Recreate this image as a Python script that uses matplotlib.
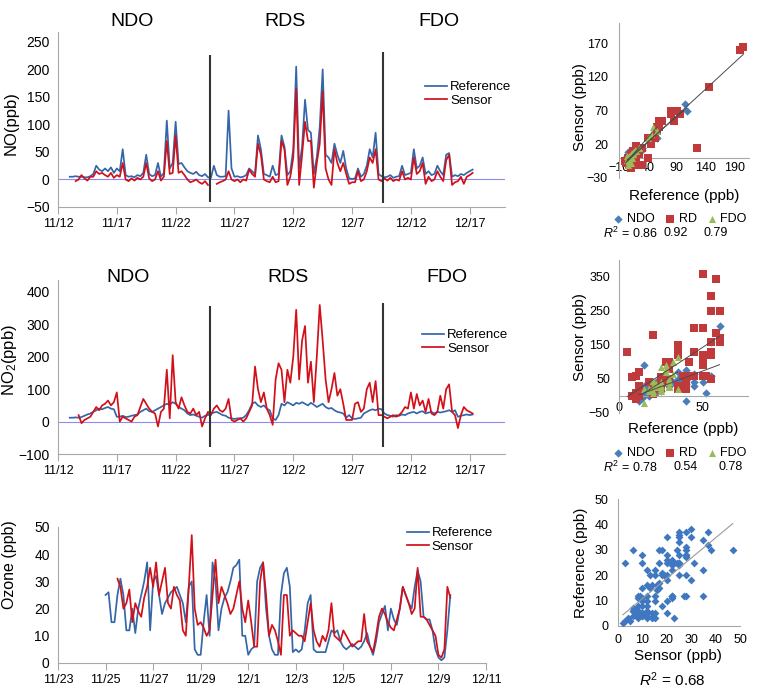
import numpy as np
import pandas as pd
import matplotlib
matplotlib.use('Agg')
import matplotlib.pyplot as plt

plt.rcParams['font.family'] = ['Liberation Sans', 'DejaVu Sans']
plt.rcParams['mathtext.fontset'] = 'custom'
plt.rcParams['mathtext.rm'] = 'Liberation Sans'
plt.rcParams['mathtext.it'] = 'Liberation Sans:italic'

# ---------------- data (days since 11/12) ----------------
STEP = 0.25          # NO / NO2 sampling (days)
O3_STEP = 0.125      # ozone sampling (days)
period_names = ['NDO', 'RDS', 'FDO']
period_bounds = [12.9, 27.6]
scatter_groups = ['NDO', 'RD', 'FDO']

no_start = 1.0
no_ref = [5, 5, 6, 5, 5, 4, 4, 6, 10, 25, 18, 15, 20, 15, 22, 12,
          20, 15, 55, 8, 5, 6, 4, 8, 6, 12, 45, 10, 6, 8, 30, 5,
          12, 107, 20, 30, 105, 28, 30, 22, 15, 12, 10, 14, 8, 6, 10, 4,
          3, 25, 8, 5, 5, 6, 125, 20, 5, 6, 4, 5, 8, 20, 15, 10,
          80, 55, 10, 8, 5, 25, 8, 10, 80, 60, 8, 15, 55, 205, 20, 60,
          145, 90, 85, 10, 40, 95, 200, 45, 40, 30, 65, 45, 30, 52, 20, 2,
          1, 2, 20, 5, 10, 25, 55, 40, 85, 10, 6, 4, 5, 8, 3, 5,
          6, 25, 8, 10, 12, 55, 20, 25, 40, 10, 15, 8, 10, 25, 15, 8,
          45, 48, 5, 8, 6, 10, 8, 12, 15, 18]
no_sensor = [np.nan, np.nan, -3, 0, 8, 2, -2, 5, 5, 15, 10, 12, 8, 5, 12, 3,
             8, 5, 30, 0, -3, 2, -2, 3, 0, 5, 30, 2, -3, 0, 15, -2,
             5, 70, 10, 12, 80, 12, 15, 8, 0, -5, -3, 0, -5, -8, -3, -10,
             np.nan, np.nan, -8, -5, -3, 0, 15, 0, -3, 0, -5, 0, -2, 18, 10, 5,
             65, 45, 0, -3, -5, 5, -5, -3, 70, 55, -10, 5, 40, 165, -10, 45,
             105, 70, 70, -15, 30, 65, 160, 20, 0, -10, 55, 30, 15, 30, 10, -8,
             -5, -5, 15, -3, 0, 15, 40, 30, 55, 0, -3, 2, -2, 3, -3, 0,
             -2, 15, 0, 3, 0, 40, 10, 15, 30, -8, 5, -3, 0, 15, 5, -3,
             35, 45, -10, -5, -3, 5, -8, 5, 8, 12]

no2_start = 1.0
no2_ref = [12, 12, 13, 12, 14, 18, 22, 25, 30, 35, 40, 38, 42, 45, 40, 38,
           15, 15, 18, 14, 15, 18, 20, 22, 30, 35, 40, 32, 30, 35, 40, 45,
           50, 55, 52, 60, 55, 45, 40, 35, 25, 20, 22, 18, 15, 12, 18, 20,
           25, 28, 30, 25, 20, 18, 12, 10, 8, 10, 10, 12, 20, 35, 55, 60,
           50, 45, 50, 40, 35, 10, 5, 20, 55, 50, 60, 55, 50, 58, 55, 60,
           55, 50, 58, 52, 45, 50, 55, 45, 40, 42, 35, 30, 28, 25, 12, 20,
           10, 8, 10, 12, 25, 30, 35, 38, 35, 40, 38, 25, 20, 18, 15, 20,
           18, 22, 20, 25, 28, 30, 25, 30, 32, 25, 28, 30, 25, 30, 28, 30,
           32, 35, 30, 35, 15, 18, 20, 22, 20, 22]
no2_sensor = [np.nan, np.nan, np.nan, 20, -5, 5, 10, 15, 30, 45, 35, 50, 55, 65, 50, 60,
              90, 0, 15, 10, 5, 0, 15, 20, 45, 70, 55, 40, 30, 25, -15, 30,
              40, 160, 10, 205, 60, 40, 75, 50, 30, 25, 40, 20, 30, -15, 10, 30,
              20, 40, 50, 35, 30, 40, 70, 5, 0, 5, 10, 0, 10, 30, 50, 170,
              100, 60, 90, 40, 20, -10, 130, 180, 160, 60, 160, 120, 200, 345, 130, 250,
              295, 120, 185, 60, 200, 360, 250, 130, 60, 100, 150, 80, 100, 55, 5, 5,
              5, 55, 60, 30, 40, 100, 120, 60, 125, 20, 20, 15, 10, 15, 20, 15,
              20, 30, 45, 40, 90, 40, 85, 50, 65, 30, 70, 25, 20, 30, 80, 40,
              100, 115, 30, 20, -20, 20, 45, 35, 30, 25]

o3_ref_start = 13.0
o3_ref = [25, 26, 15, 15, 25, 31, 25, 12,
          12, 20, 11, 20, 25, 30, 37, 12,
          30, 32, 25, 18, 22, 24, 26, 27,
          28, 25, 22, 15, 28, 30, 5, 3,
          3, 15, 25, 10, 37, 30, 12, 20,
          24, 26, 30, 35, 36, 38, 10, 10,
          3, 5, 6, 30, 35, 37, 20, 10,
          5, 3, 3, 25, 33, 35, 28, 4,
          5, 4, 5, 12, 22, 25, 5, 4,
          4, 4, 4, 8, 12, 11, 12, 8,
          6, 5, 6, 7, 6, 5, 6, 8,
          11, 6, 3, 8, 15, 18, 21, 12,
          20, 16, 14, 20, 28, 25, 22, 20,
          28, 34, 30, 17, 16, 16, 12, 5,
          2, 1, 2, 12, 25]
o3_sensor_start = 13.5
o3_sensor = [31, 28, 20, 22, 27, 15, 22, 19,
             17, 24, 28, 35, 28, 37, 25, 30,
             35, 22, 20, 28, 25, 23, 12, 10,
             28, 47, 20, 14, 15, 13, 10, 12,
             25, 38, 22, 28, 25, 22, 18, 20,
             25, 30, 20, 15, 23, 15, 6, 6,
             30, 37, 25, 10, 14, 12, 8, 3,
             25, 25, 10, 12, 11, 10, 10, 8,
             15, 22, 12, 8, 6, 10, 8, 12,
             22, 10, 9, 8, 12, 10, 8, 6,
             7, 8, 8, 18, 8, 6, 4, 10,
             17, 20, 18, 15, 13, 12, 16, 20,
             28, 25, 22, 18, 20, 35, 17, 17,
             16, 14, 12, 10, 3, 2, 5, 28, 24]

tick_days_top = [0, 5, 10, 15, 20, 25, 30, 35]
tick_labels_top = ['11/12', '11/17', '11/22', '11/27', '12/2', '12/7', '12/12', '12/17']
tick_days_o3 = [11, 13, 15, 17, 19, 21, 23, 25, 27, 29]
tick_labels_o3 = ['11/23', '11/25', '11/27', '11/29', '12/1', '12/3', '12/5', '12/7', '12/9', '12/11']

no_r2 = ['0.86', '0.92', '0.79']
no2_r2 = ['0.78', '0.54', '0.78']
o3_r2 = '0.68'

# ---------------- helpers ----------------
REF_C = '#3566a8'
SEN_C = '#d2101a'
GRP_C = ['#4a7ebb', '#c0393b', '#9bbb59']
GRP_M = ['D', 's', '^']
GRP_S = [18, 26, 26]
SPINE_C = '#a8a8a8'


def series(start, vals, step=STEP):
    t = np.round(start + step * np.arange(len(vals)), 4)
    return pd.Series(np.array(vals, dtype=float), index=t)


def paired(sa, a, sb, b, step=STEP):
    df = pd.concat([series(sa, a, step), series(sb, b, step)], axis=1, keys=['ref', 'sen'])
    return df.dropna()


W, H = 780, 696


def rect(l, t, r, b):
    return [l / W, 1 - b / H, (r - l) / W, (b - t) / H]


fig = plt.figure(figsize=(7.8, 6.96), dpi=100)


def style_ts(ax):
    for s in ['top', 'right']:
        ax.spines[s].set_visible(False)
    for s in ['left', 'bottom']:
        ax.spines[s].set_color(SPINE_C)
        ax.spines[s].set_linewidth(0.8)
    ax.tick_params(axis='y', length=0, labelsize=10, pad=6)
    ax.tick_params(axis='x', length=5, color=SPINE_C, labelsize=9, pad=3)


def style_sc(ax, ypad, xpad):
    for s in ['top', 'right']:
        ax.spines[s].set_visible(False)
    for s in ['left', 'bottom']:
        ax.spines[s].set_color(SPINE_C)
        ax.spines[s].set_linewidth(0.8)
    ax.tick_params(axis='y', length=0, labelsize=9, pad=ypad)
    ax.tick_params(axis='x', length=0, labelsize=9, pad=xpad)


def ts_legend(ax, x, y):
    ax.legend(loc='center left', bbox_to_anchor=(x, y), frameon=False, fontsize=9.5,
              handlelength=1.7, handletextpad=0.2, labelspacing=0.1,
              borderpad=0, borderaxespad=0)


LW = 1.25

# ---------------- NO time series ----------------
ax1 = fig.add_axes(rect(58, 32, 505, 207))
s = series(no_start, no_ref)
ax1.plot(s.index, s.values, color=REF_C, lw=LW, label='Reference')
s = series(no_start, no_sensor)
ax1.plot(s.index, s.values, color=SEN_C, lw=LW, label='Sensor')
ax1.axhline(0, color='#8c8cf0', lw=0.8, zorder=1)
ax1.vlines(period_bounds[0], -41, 226, color='#333333', lw=1.5)
ax1.vlines(period_bounds[1], -43, 232, color='#333333', lw=1.5)
ax1.set_xlim(0, 38)
ax1.set_ylim(-50, 268)
ax1.set_yticks([-50, 0, 50, 100, 150, 200, 250])
ax1.set_xticks(tick_days_top)
ax1.set_xticklabels(tick_labels_top)
style_ts(ax1)
ax1.set_ylabel('NO(ppb)', fontsize=12)
ax1.yaxis.set_label_coords(-0.088, 0.48)
ts_legend(ax1, 0.821, 0.646)
for name, xp in zip(period_names, [132, 285, 439]):
    fig.text(xp / W, 1 - 22 / H, name, ha='center', va='center', fontsize=14)

# ---------------- NO2 time series ----------------
ax2 = fig.add_axes(rect(58, 280, 505, 454))
s = series(no2_start, no2_ref)
ax2.plot(s.index, s.values, color=REF_C, lw=LW, label='Reference')
s = series(no2_start, no2_sensor)
ax2.plot(s.index, s.values, color=SEN_C, lw=LW, label='Sensor')
ax2.axhline(0, color='#8c8cf0', lw=0.8, zorder=1)
ax2.vlines(period_bounds[0], -78, 357, color='#333333', lw=1.5)
ax2.vlines(period_bounds[1], -78, 366, color='#333333', lw=1.5)
ax2.set_xlim(0, 38)
ax2.set_ylim(-100, 437)
ax2.set_yticks([-100, 0, 100, 200, 300, 400])
ax2.set_xticks(tick_days_top)
ax2.set_xticklabels(tick_labels_top)
style_ts(ax2)
ax2.set_ylabel('NO$_2$(ppb)', fontsize=12)
ax2.yaxis.set_label_coords(-0.088, 0.54)
ts_legend(ax2, 0.814, 0.644)
for name, xp in zip(period_names, [128, 288, 447]):
    fig.text(xp / W, 1 - 278 / H, name, ha='center', va='center', fontsize=14)

# ---------------- Ozone time series ----------------
ax3 = fig.add_axes(rect(58, 527, 486, 663))
s = series(o3_ref_start, o3_ref, O3_STEP)
ax3.plot(s.index, s.values, color=REF_C, lw=LW, label='Reference')
s = series(o3_sensor_start, o3_sensor, O3_STEP)
ax3.plot(s.index, s.values, color=SEN_C, lw=LW, label='Sensor')
ax3.set_xlim(11, 29)
ax3.set_ylim(0, 50)
ax3.set_yticks([0, 10, 20, 30, 40, 50])
ax3.set_xticks(tick_days_o3)
ax3.set_xticklabels(tick_labels_o3)
style_ts(ax3)
ax3.set_ylabel('Ozone (ppb)', fontsize=11.5)
ax3.yaxis.set_label_coords(-0.095, 0.72)
ts_legend(ax3, 0.815, 0.904)


# ---------------- scatter helpers ----------------
def group_scatter(ax, df):
    t = df.index.values
    masks = [t < period_bounds[0], (t >= period_bounds[0]) & (t < period_bounds[1]),
             t >= period_bounds[1]]
    for k, m in enumerate(masks):
        x = df['ref'].values[m]
        y = df['sen'].values[m]
        ax.scatter(x, y, marker=GRP_M[k], s=GRP_S[k], color=GRP_C[k], linewidths=0,
                   zorder=2 + k, label=scatter_groups[k])
    for k, m in enumerate(masks):
        x = df['ref'].values[m]
        y = df['sen'].values[m]
        a, b = np.polyfit(x, y, 1)
        xs = np.array([x.min(), x.max()])
        ax.plot(xs, a * xs + b, color='#4a4a4a', lw=0.7, zorder=6)


def group_legend(ax, yc, r2, r2_pos):
    ax.legend(loc='center', bbox_to_anchor=(680 / W, 1 - yc / H), bbox_transform=fig.transFigure,
              ncol=3, frameon=False, fontsize=9, handlelength=0.8, handletextpad=0.3,
              columnspacing=0.8, borderpad=0, borderaxespad=0, markerscale=1.0)
    y2 = 1 - (yc + 14) / H
    fig.text(603 / W, y2, '$R^2$ = ' + r2[0], ha='left', va='center', fontsize=9)
    fig.text(r2_pos[0] / W, y2, r2[1], ha='center', va='center', fontsize=9)
    fig.text(r2_pos[1] / W, y2, r2[2], ha='center', va='center', fontsize=9)


# ---------------- NO scatter ----------------
ax4 = fig.add_axes(rect(619, 23, 749, 178))
group_scatter(ax4, paired(no_start, no_ref, no_start, no_sensor))
ax4.set_xlim(-10, 215)
ax4.set_ylim(-30, 200)
ax4.set_xticks([-10, 40, 90, 140, 190])
ax4.set_yticks([-30, 20, 70, 120, 170])
ax4.spines['bottom'].set_position(('data', 0))
style_sc(ax4, 8, 3)
ax4.set_xlabel('Reference (ppb)', fontsize=11)
ax4.set_ylabel('Sensor (ppb)', fontsize=11)
ax4.xaxis.set_label_coords(0.5, -0.07)
ax4.yaxis.set_label_coords(-0.245, 0.458)
group_legend(ax4, 219, no_r2, [676, 716])

# ---------------- NO2 scatter ----------------
ax5 = fig.add_axes(rect(619, 260, 748, 413))
group_scatter(ax5, paired(no2_start, no2_ref, no2_start, no2_sensor))
ax5.set_xlim(0, 77)
ax5.set_ylim(-50, 400)
ax5.set_xticks([0, 50])
ax5.set_yticks([-50, 50, 150, 250, 350])
ax5.spines['bottom'].set_position(('data', 0))
style_sc(ax5, 6.5, 4)
ax5.set_xlabel('Reference (ppb)', fontsize=11)
ax5.set_ylabel('Sensor (ppb)', fontsize=11)
ax5.xaxis.set_label_coords(0.5, -0.06)
ax5.yaxis.set_label_coords(-0.245, 0.497)
group_legend(ax5, 453, no2_r2, [686, 731])

# ---------------- Ozone scatter ----------------
ax6 = fig.add_axes(rect(618, 499, 740, 626))
d3 = paired(o3_ref_start, o3_ref, o3_sensor_start, o3_sensor, O3_STEP)
ax6.scatter(d3['sen'], d3['ref'], marker='D', s=16, color='#3f78c0', linewidths=0, zorder=3)
a, b = np.polyfit(d3['sen'].values, d3['ref'].values, 1)
xs = np.array([d3['sen'].min(), d3['sen'].max()])
ax6.plot(xs, a * xs + b, color='#9a9a9a', lw=0.8, zorder=4)
ax6.set_xlim(0, 50)
ax6.set_ylim(0, 50)
ax6.set_xticks([0, 10, 20, 30, 40, 50])
ax6.set_yticks([0, 10, 20, 30, 40, 50])
style_sc(ax6, 7, 6)
ax6.set_xlabel('Sensor (ppb)', fontsize=11)
ax6.set_ylabel('Reference (ppb)', fontsize=11)
ax6.xaxis.set_label_coords(0.49, -0.18)
ax6.yaxis.set_label_coords(-0.245, 0.496)
fig.text(672 / W, 1 - 680 / H, '$R^2$ = ' + o3_r2, ha='center', va='center', fontsize=11)

fig.savefig('out.png', dpi=100)
